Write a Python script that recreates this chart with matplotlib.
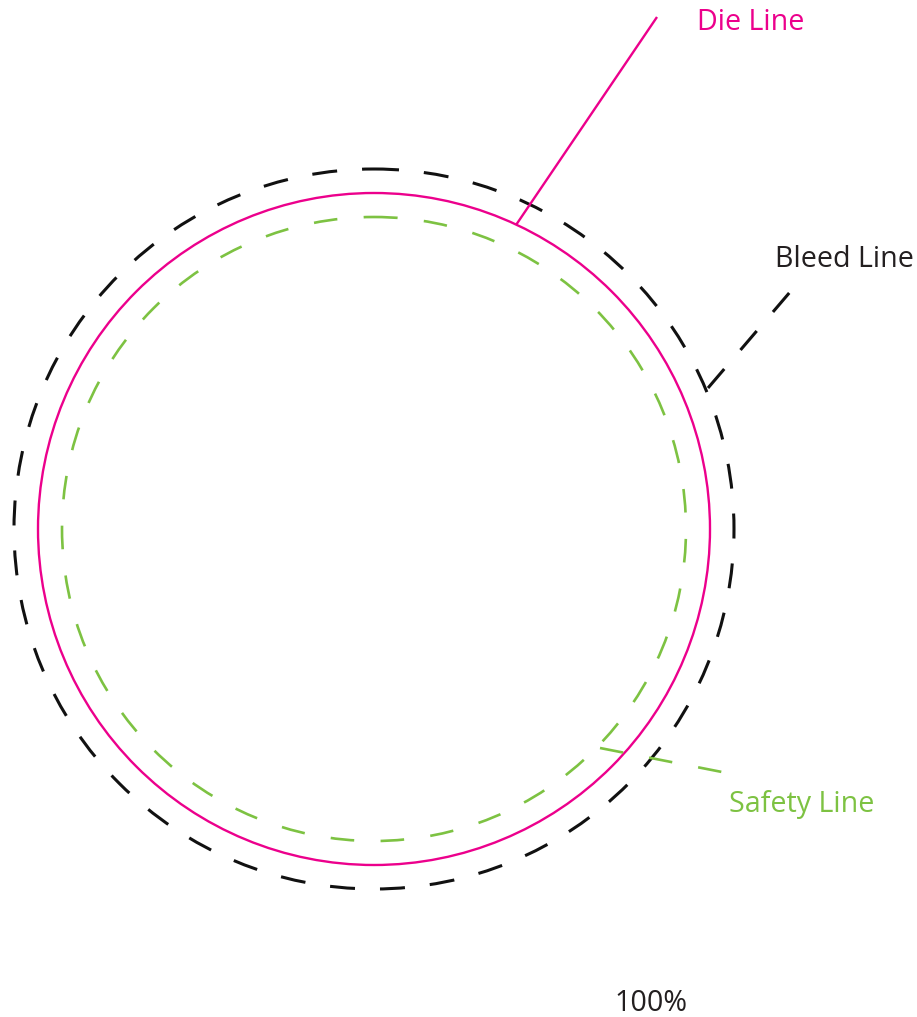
import numpy as np
import matplotlib.pyplot as plt
from matplotlib.patches import Circle

plt.rcParams['font.family'] = ['Open Sans', 'DejaVu Sans']
plt.rcParams['lines.scale_dashes'] = False

# circle guides (pixel units, centre and radius)
names = ['Bleed Line', 'Die Line', 'Safety Line']
radii = [360, 336, 312]
center = (374, 529)
colors = ['#111111', '#EC008C', '#7DC242']
widths = [2.2, 1.7, 1.9]
styles = [(0, (18, 18)), 'solid', (0, (17, 19))]

# leader lines: start (on circle) -> end (near label)
leader_x = [[708, 796], [516, 657], [600, 722]]
leader_y = [[388, 285], [225, 17], [748, 772]]
label_pos = [(775, 267), (697, 30), (729, 812)]
label_colors = ['#231F20', '#EC008C', '#7DC242']

fig = plt.figure(figsize=(9.17, 10.17), dpi=100)
ax = fig.add_axes([0, 0, 1, 1])
ax.set_xlim(0, 917)
ax.set_ylim(1017, 0)
ax.set_aspect('equal')
ax.axis('off')

for r, c, w, s in zip(radii, colors, widths, styles):
    ax.add_patch(Circle(center, r, fill=False, edgecolor=c, linewidth=w, linestyle=s))

for lx, ly, c, w, s in zip(leader_x, leader_y, colors, widths, styles):
    ax.plot(lx, ly, color=c, linewidth=w, linestyle=s, solid_capstyle='butt', dash_capstyle='butt')

for name, (tx, ty), c in zip(names, label_pos, label_colors):
    ax.text(tx, ty, name, color=c, fontsize=20.6, ha='left', va='baseline')

ax.text(614, 1011, '100%', color='#231F20', fontsize=20.6, ha='left', va='baseline')

fig.savefig('out.png', dpi=100)
